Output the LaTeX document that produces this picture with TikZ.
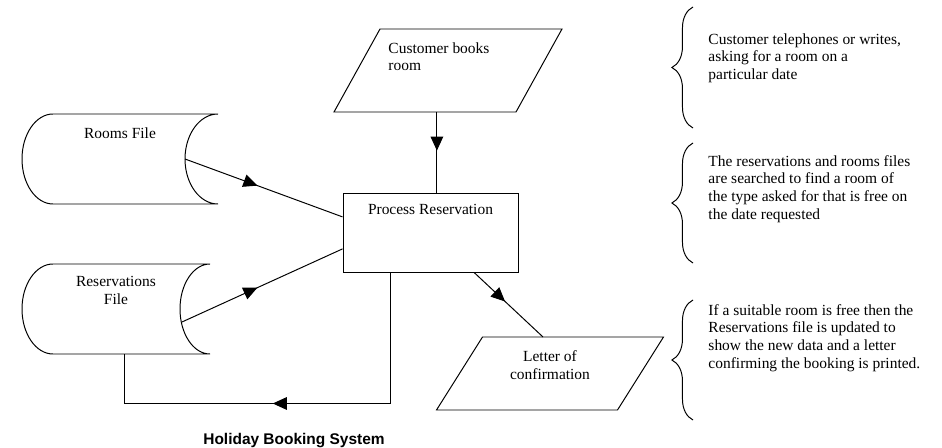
\documentclass[tikz,border=0pt]{standalone}
\usepackage{fontspec}
\setmainfont{Liberation Serif}
\newfontfamily\headfont{Liberation Sans}
\usetikzlibrary{arrows.meta,decorations.markings,decorations.pathreplacing}

\tikzset{
    midarrow/.style={postaction={decorate},
        decoration={markings, mark=at position #1 with {\arrow{Triangle[length=10pt,width=9pt]}}}},
    midarrow/.default=0.5,
    shapebox/.style={inner sep=0pt, outer sep=0pt, minimum width=#1},
    bracket/.style={decorate, decoration={brace, amplitude=15pt}},
    note/.style={anchor=north west, inner sep=0pt, align=left},
}

\begin{document}
\begin{tikzpicture}[line width=0.7pt, font=\fontsize{11}{12.5}\selectfont]
    \def\datafile#1#2{%
        \draw ([xshift=7.75mm]#1.north west) -- (#1.north east)
            arc[start angle=90, end angle=270, x radius=#2, y radius=11.25mm]
            -- ([xshift=7.75mm]#1.south west)
            arc[start angle=270, end angle=90, x radius=7.75mm, y radius=11.25mm];
    }

    \def\slantbox#1{%
        \draw ([xshift=-5.75mm]#1.south west) -- ([xshift=-5.75mm]#1.south east)
            -- ([xshift=5.75mm]#1.north east) -- ([xshift=5.75mm]#1.north west) -- cycle;
    }

    \useasboundingbox (0,0) rectangle (23.55,11.2);

    \node[shapebox=4.9cm, minimum height=2.25cm,
        label={[anchor=north, inner sep=0pt, yshift=-3.2mm]north:Rooms File}] (rooms) at (3.0,7.225) {};
    \datafile{rooms}{8.25mm}

    \node[shapebox=4.7cm, minimum height=2.25cm,
        label={[anchor=north, inner sep=0pt, align=center, yshift=-3mm]north:Reservations\\File}] (res) at (2.9,3.475) {};
    \datafile{res}{7.5mm}

    \node[draw, minimum width=4.375cm, minimum height=1.975cm,
        label={[anchor=north, inner sep=0pt, yshift=-2.85mm]north:Process Reservation}] (proc) at (10.7625,5.3875) {};

    \node[shapebox=4.55cm, minimum height=2.075cm,
        label={[anchor=north west, inner sep=0pt, align=left, xshift=7.75mm, yshift=-3.2mm]north west:Customer books\\room}] (cust) at (11.2,9.4375) {};
    \slantbox{cust}

    \node[shapebox=4.525cm, minimum height=1.825cm,
        label={[anchor=north, inner sep=0pt, align=center, yshift=-3.4mm]north:Letter of\\confirmation}] (letter) at (13.75,1.8625) {};
    \slantbox{letter}

    \coordinate (drop) at ([xshift=1.6mm]proc.north);
    \draw[midarrow=0.48] (cust.south -| drop) -- (drop);
    \draw[midarrow=0.46] ([xshift=-8.25mm]rooms.east) -- ([yshift=3.9mm]proc.west);
    \draw[midarrow=0.47] ([xshift=-7mm,yshift=-3.25mm]res.east) -- ([yshift=-4.1mm]proc.west);
    \draw[midarrow=0.45] ([xshift=10.9mm]proc.south) -- ([xshift=-1.75mm]letter.north);
    \draw[midarrow=0.556] ([xshift=-10.1mm]proc.south) -- ++(0,-3.275) -| ([xshift=2mm]res.south);

    \draw[bracket] (17.325,8.0) -- (17.325,11.025);
    \draw[bracket] (17.325,4.625) -- (17.325,7.625);
    \draw[bracket] (17.325,0.7) -- (17.325,3.7);

    \node[note] (ask) at (17.7,10.38) {Customer telephones or writes,\\asking for a room on a\\particular date};
    \node[note] (search) at (17.7,7.325) {The reservations and rooms files\\are searched to find a room of\\the type asked for that is free on\\the date requested};
    \node[note] (update) at (17.7,3.6) {If a suitable room is free then the\\Reservations file is updated to\\show the new data and a letter\\confirming the booking is printed.};

    \node[font=\headfont\bfseries\fontsize{11}{13}\selectfont, anchor=base] (title) at (7.35,0.075) {Holiday Booking System};
\end{tikzpicture}
\end{document}
